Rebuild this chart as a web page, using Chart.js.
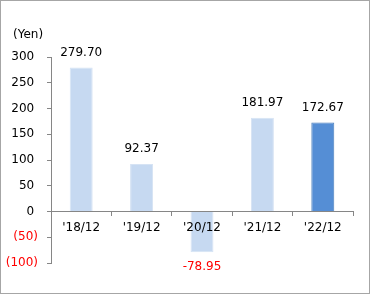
<!DOCTYPE html>
<html>
<head>
<meta charset="utf-8">
<script src="https://cdn.jsdelivr.net/npm/chart.js@4/dist/chart.umd.min.js"></script>
<style>
  html, body { margin: 0; padding: 0; background: #fff; }
  #wrap { width: 370px; height: 294px; box-sizing: border-box; border: 1px solid #a6a6a6; }
</style>
</head>
<body>
<div id="wrap"><canvas id="eps" width="368" height="292"></canvas></div>
<script>
const categories = ["'18/12", "'19/12", "'20/12", "'21/12", "'22/12"];
const epsValues = [279.70, 92.37, -78.95, 181.97, 172.67];
const valueLabels = ['279.70', '92.37', '-78.95', '181.97', '172.67'];
const yTicks = [-100, -50, 0, 50, 100, 150, 200, 250, 300];
const unitLabel = '(Yen)';

const FONT = '"DejaVu Sans", Verdana, sans-serif';

// value labels above/below bars + unit text (no datalabels plugin offline)
const labelPlugin = {
    id: 'barLabels',
    afterDatasetsDraw(chart) {
        const ctx = chart.ctx;
        const meta = chart.getDatasetMeta(0);
        ctx.save();
        ctx.font = '12px ' + FONT;
        ctx.textAlign = 'center';
        meta.data.forEach((bar, i) => {
            const v = epsValues[i];
            if (v >= 0) {
                ctx.fillStyle = '#000';
                ctx.textBaseline = 'bottom';
                ctx.fillText(valueLabels[i], bar.x, bar.y - 9);
            } else {
                ctx.fillStyle = '#ff0000';
                ctx.textBaseline = 'top';
                ctx.fillText(valueLabels[i], bar.x, bar.y + 9);
            }
        });
        ctx.fillStyle = '#000';
        ctx.textAlign = 'left';
        ctx.textBaseline = 'middle';
        ctx.fillText(unitLabel, 12, 34);
        ctx.restore();
    }
};

const ctx = document.getElementById('eps').getContext('2d');
new Chart(ctx, {
    type: 'bar',
    data: {
        labels: categories,
        datasets: [{
            data: epsValues,
            backgroundColor: ['#c6d9f1', '#c6d9f1', '#c6d9f1', '#c6d9f1', '#558ed5'],
            borderColor: ['#d6e3f4', '#d6e3f4', '#d6e3f4', '#d6e3f4', '#4a7ebb'],
            borderWidth: 1,
            categoryPercentage: 1,
            barPercentage: 0.38
        }]
    },
    options: {
        responsive: false,
        animation: false,
        layout: { padding: { top: 56, right: 16, bottom: 30, left: 0 } },
        plugins: {
            legend: { display: false },
            tooltip: { enabled: false }
        },
        scales: {
            x: {
                position: { y: 0 },
                grid: { drawOnChartArea: false, color: '#868686', tickLength: 4, z: 1 },
                border: { color: '#868686', z: 1 },
                ticks: { color: '#000', padding: 5, z: 1, font: { family: FONT, size: 12 } }
            },
            y: {
                min: -100,
                max: 300,
                afterBuildTicks: (scale) => { scale.ticks = yTicks.map(v => ({ value: v })); },
                afterFit: (scale) => { scale.width = 50; },
                grid: { drawOnChartArea: false, color: '#868686', tickLength: 4 },
                border: { color: '#868686' },
                ticks: {
                    padding: 9,
                    font: { family: FONT, size: 12 },
                    color: (c) => c.tick.value < 0 ? '#ff0000' : '#000',
                    callback: (v) => v < 0 ? '(' + Math.abs(v) + ')' : v + ' '
                }
            }
        }
    },
    plugins: [labelPlugin]
});
</script>
</body>
</html>
